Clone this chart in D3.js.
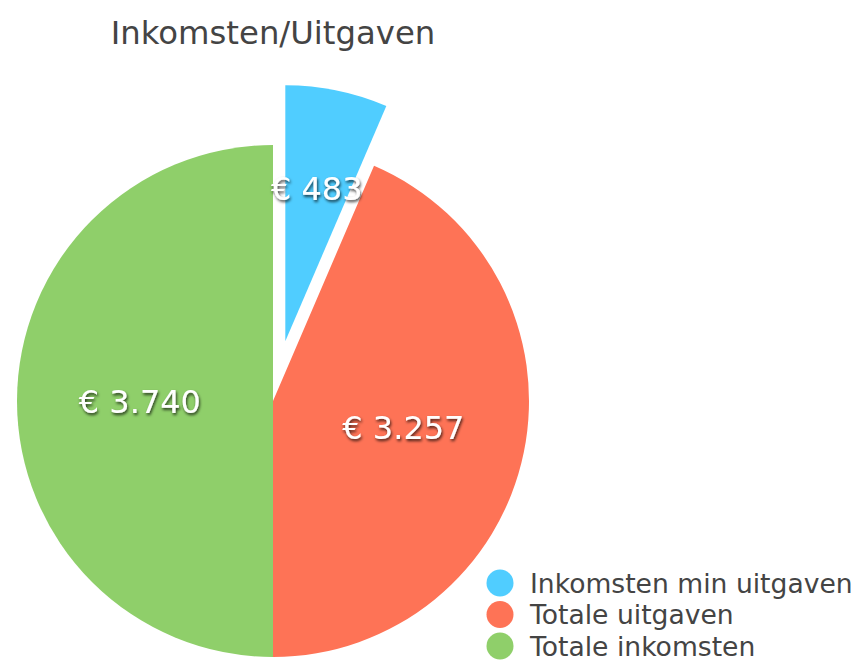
<!DOCTYPE html>
<html>
<head>
<meta charset="utf-8">
<script src="https://cdn.jsdelivr.net/npm/d3@7"></script>
<style>
  body { margin: 0; background: #fff; }
  svg { display: block; font-family: "DejaVu Sans", Verdana, sans-serif; }
</style>
</head>
<body>
<svg id="chart"></svg>
<script>
const categories = ["Inkomsten min uitgaven", "Totale uitgaven", "Totale inkomsten"];
const values = [483, 3257, 3740];
const colors = ["#50cdff", "#fe7356", "#8fcf6a"];
const sliced = [true, false, false];
const title = "Inkomsten/Uitgaven";

const width = 861, height = 660;
const cx = 273, cy = 401, radius = 256;
const slicedOffset = 61;

const svg = d3.select("#chart").attr("width", width).attr("height", height);

// text shadow for the slice labels
const defs = svg.append("defs");
const filter = defs.append("filter").attr("id", "shadow")
    .attr("x", "-20%").attr("y", "-40%").attr("width", "140%").attr("height", "180%");
filter.append("feDropShadow")
    .attr("dx", 1).attr("dy", 2).attr("stdDeviation", 1.6)
    .attr("flood-color", "#000").attr("flood-opacity", 0.75);

svg.append("text")
    .attr("x", cx)
    .attr("y", 44)
    .attr("text-anchor", "middle")
    .attr("font-size", 32.3)
    .attr("fill", "#444")
    .text(title);

const pie = d3.pie().sort(null).value((d) => d)(values);
const arc = d3.arc().innerRadius(0).outerRadius(radius);

const g = svg.append("g").attr("transform", `translate(${cx},${cy})`);

const offsetOf = (d, i) => {
    if (!sliced[i]) return [0, 0];
    const a = (d.startAngle + d.endAngle) / 2;
    return [Math.sin(a) * slicedOffset, -Math.cos(a) * slicedOffset];
};

g.selectAll("path.slice")
    .data(pie)
    .enter()
    .append("path")
    .attr("class", "slice")
    .attr("d", arc)
    .attr("fill", (d, i) => colors[i])
    .attr("transform", (d, i) => `translate(${offsetOf(d, i)})`);

const fmt = (v) => "€ " + d3.format(",")(v).replace(/,/g, ".");

g.selectAll("text.label")
    .data(pie)
    .enter()
    .append("text")
    .attr("class", "label")
    .attr("transform", (d, i) => {
        const a = (d.startAngle + d.endAngle) / 2;
        const lr = radius * (sliced[i] ? 0.61 : 0.52);
        const [ox, oy] = offsetOf(d, i);
        return `translate(${ox + Math.sin(a) * lr},${oy - Math.cos(a) * lr})`;
    })
    .attr("dy", "0.36em")
    .attr("text-anchor", "middle")
    .attr("font-size", 32)
    .attr("fill", "#fff")
    .attr("filter", "url(#shadow)")
    .text((d) => fmt(d.data));

// legend
const legend = svg.append("g").attr("transform", "translate(500,583)");
const rows = legend.selectAll("g")
    .data(categories)
    .enter()
    .append("g")
    .attr("transform", (d, i) => `translate(0,${i * 31.5})`);
rows.append("circle").attr("r", 13.5).attr("fill", (d, i) => colors[i]);
rows.append("text")
    .attr("x", 30)
    .attr("y", 9.5)
    .attr("font-size", 26.6)
    .attr("fill", "#444")
    .text((d) => d);
</script>
</body>
</html>
